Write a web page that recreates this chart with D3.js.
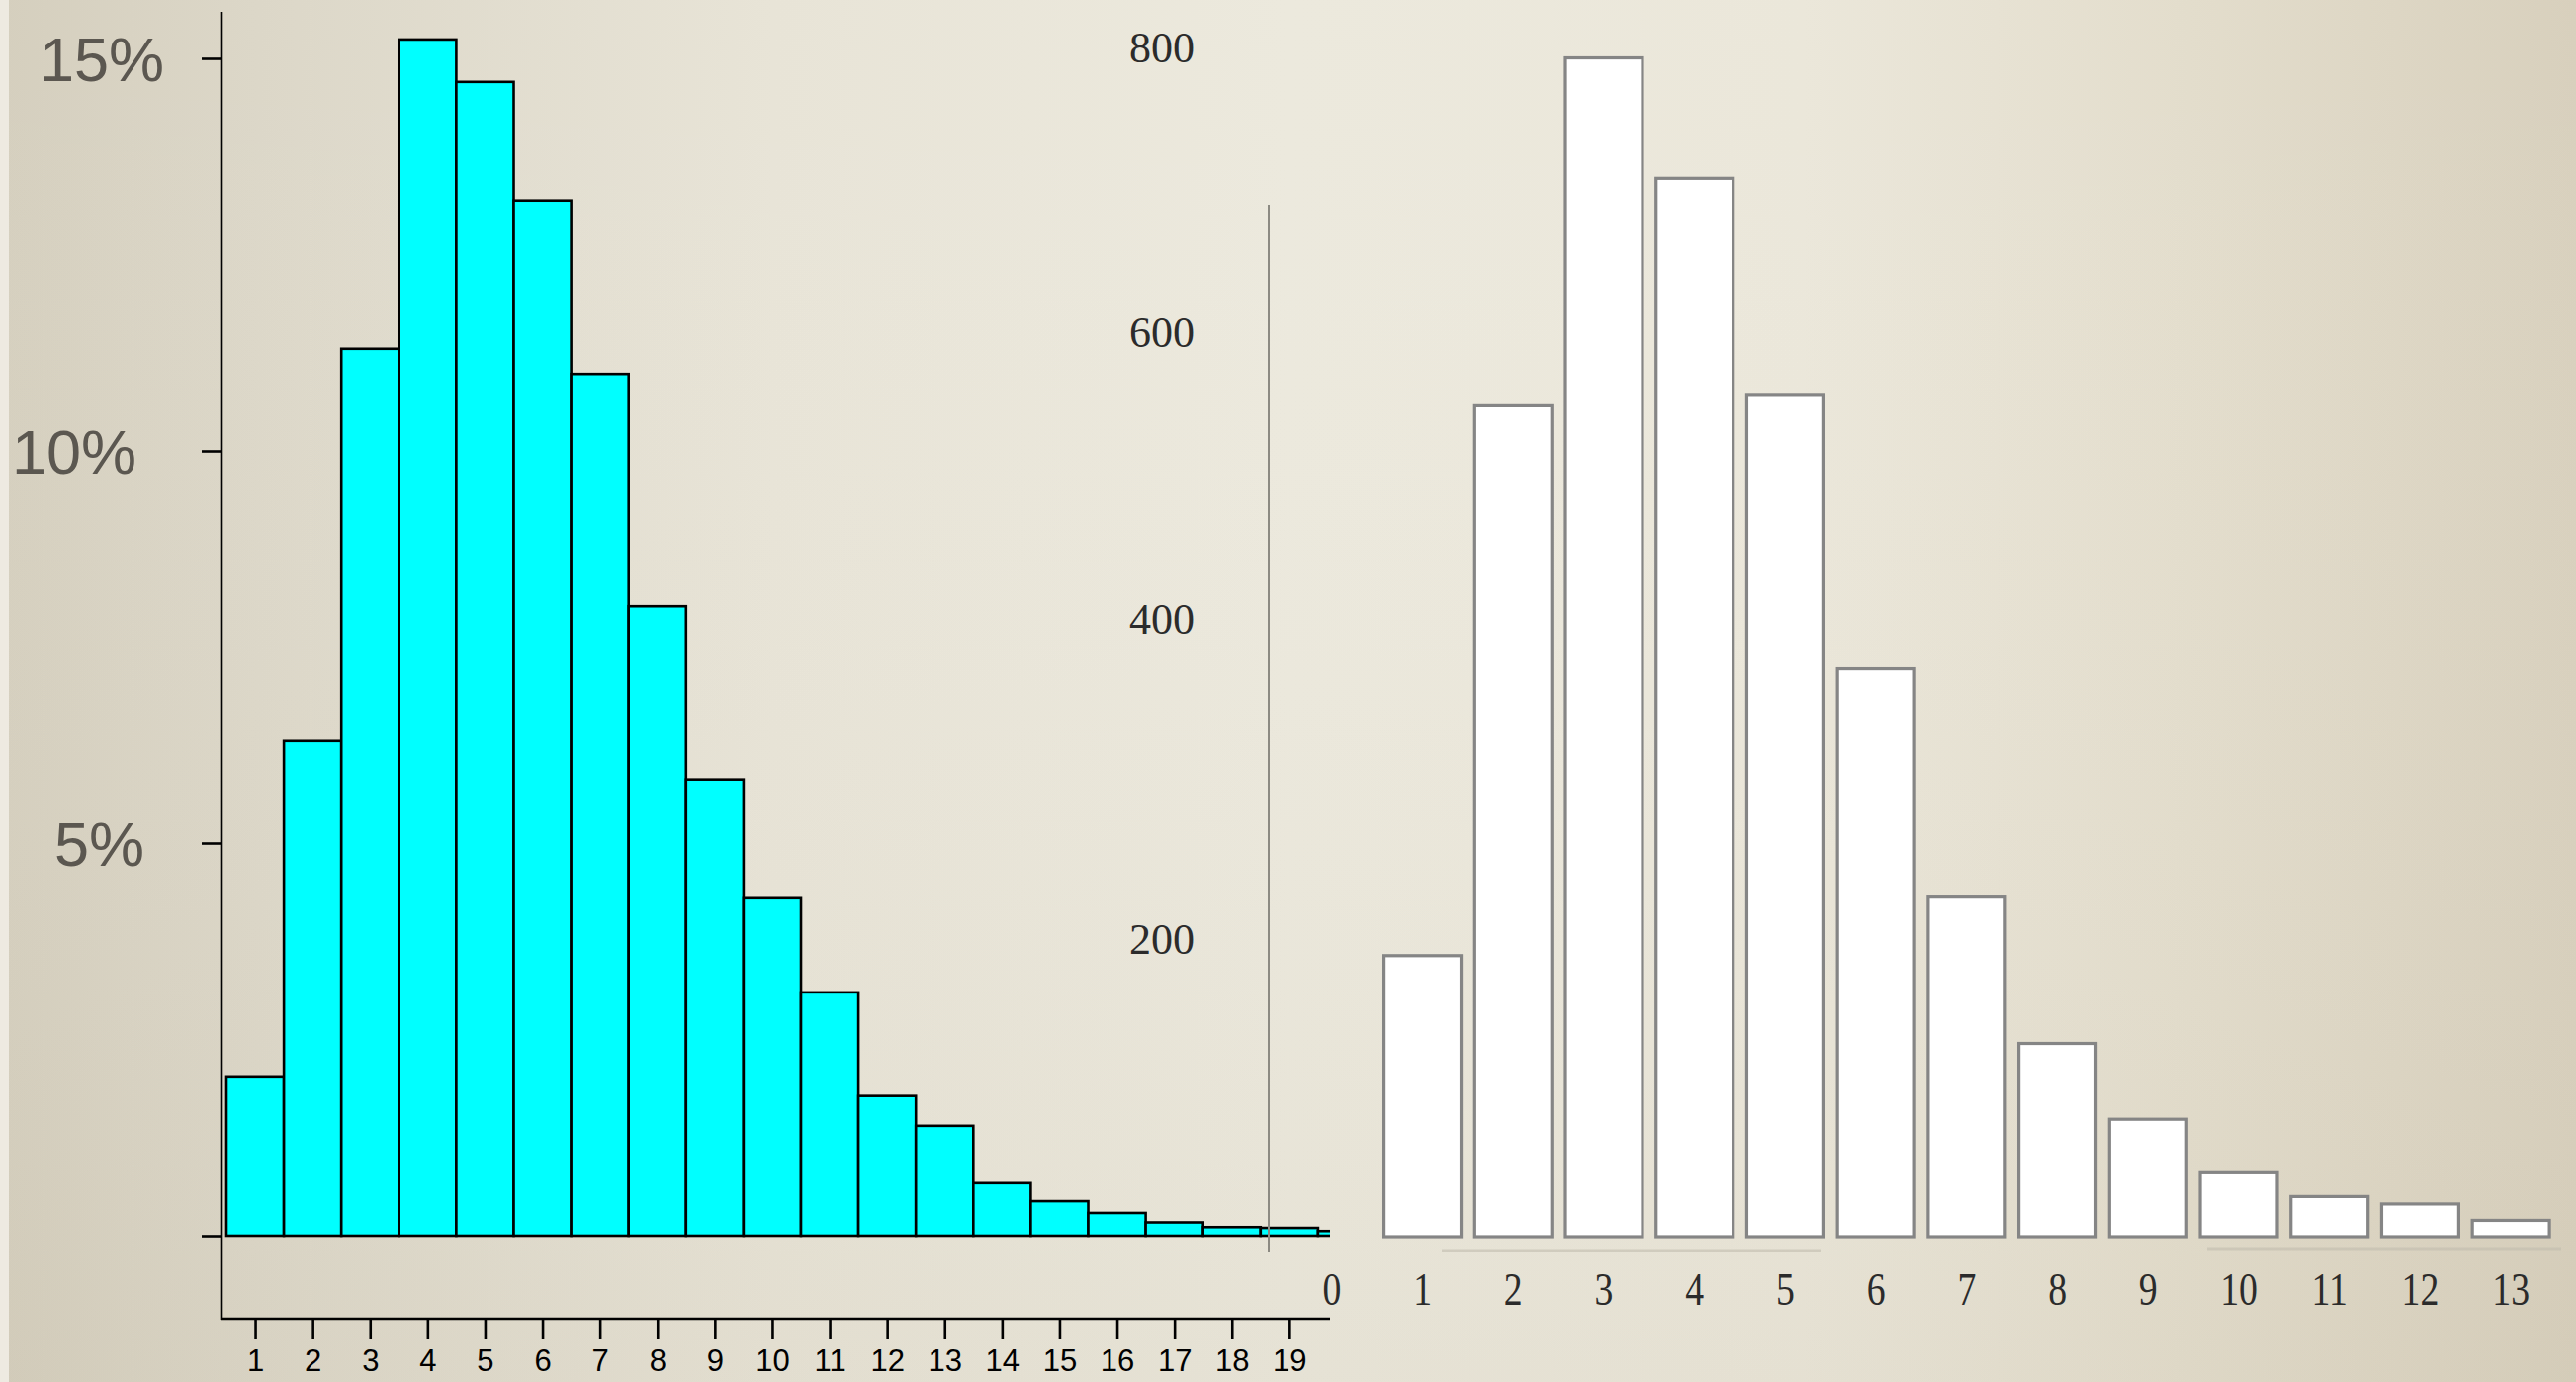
<!DOCTYPE html>
<html>
<head>
<meta charset="utf-8">
<script src="https://cdn.jsdelivr.net/npm/d3@7"></script>
<style>
	html, body {margin:0; padding:0; overflow:hidden;}
	body {width:2605px; height:1398px;}
</style>
</head>
<body>
<div id="wrap"></div>
<script>
//left histogram: share of cases per bin, in percent
var left_bins = [1,2,3,4,5,6,7,8,9,10,11,12,13,14,15,16,17,18,19,20];
var left_pct = [2.03,6.30,11.30,15.24,14.70,13.19,10.98,8.02,5.81,4.31,3.10,1.78,1.40,0.67,0.44,0.29,0.17,0.11,0.10,0.06];
var left_yticks = [0,5,10,15];
var left_xticks = [1,2,3,4,5,6,7,8,9,10,11,12,13,14,15,16,17,18,19];

//right bar chart: counts per category
var right_cats = [0,1,2,3,4,5,6,7,8,9,10,11,12,13];
var right_counts = [0,189,559,793,712,566,382,229,130,79,43,27,22,11];
var right_yticks = [200,400,600,800];

var W = 2605, H = 1398;

//the two pictures were pasted together, so their labels sit a little off the grid
var left_label_dx = {5:-20, 10:-28, 15:0};
var right_label_dy = {200:0, 400:-23, 600:-12, 800:0};

var svg = d3.select("#wrap").append("svg")
	.attr("width",W).attr("height",H)
	.style("display","block");

//paper background
var defs = svg.append("defs");
var grad = defs.append("linearGradient").attr("id","paper").attr("x1","0").attr("x2","1").attr("y1","0").attr("y2","0");
[["0","#d5cfbe"],["0.1","#dcd7c8"],["0.3","#e8e4d7"],["0.5","#ece9dd"],["0.7","#ebe7da"],["0.85","#e3ddcc"],["1","#d8d0bd"]]
	.forEach(function(s){ grad.append("stop").attr("offset",s[0]).attr("stop-color",s[1]); });
var vgrad = defs.append("linearGradient").attr("id","shade").attr("x1","0").attr("x2","0").attr("y1","0").attr("y2","1");
vgrad.append("stop").attr("offset","0").attr("stop-color","#fff").attr("stop-opacity",0.0);
vgrad.append("stop").attr("offset","1").attr("stop-color","#b8ae98").attr("stop-opacity",0.12);

svg.append("rect").attr("width",W).attr("height",H).attr("fill","url(#paper)");
svg.append("rect").attr("width",W).attr("height",H).attr("fill","url(#shade)");
svg.append("rect").attr("width",9).attr("height",H).attr("fill","#eeeae1");

defs.append("clipPath").attr("id","leftclip")
	.append("rect").attr("x",0).attr("y",0).attr("width",1345).attr("height",H);

//------------- left chart -------------
var xl = d3.scaleLinear().domain([0.5,20.5]).range([229,229+20*58.1]);
var yl = d3.scaleLinear().domain([0,15]).range([1250,59]);

var left = svg.append("g").classed("left-chart",true);

left.append("g").attr("clip-path","url(#leftclip)")
	.selectAll("rect").data(left_bins).enter().append("rect")
	.attr("x",function(d,i){return xl(d-0.5)})
	.attr("width",function(d,i){return xl(d+0.5)-xl(d-0.5)})
	.attr("y",function(d,i){return yl(left_pct[i])})
	.attr("height",function(d,i){return yl(0)-yl(left_pct[i])})
	.attr("fill","#00ffff")
	.attr("stroke","#000")
	.attr("stroke-width",2.6);

//y axis
var ly_axis = left.append("g").attr("transform","translate(224,0)")
	.call(d3.axisLeft(yl).tickValues(left_yticks).tickSize(20).tickPadding(38)
		.tickFormat(function(d){return d===0 ? "" : d+"%"}));
ly_axis.select(".domain").remove();
ly_axis.selectAll(".tick line").attr("stroke","#000").attr("stroke-width",2.6);
ly_axis.selectAll(".tick text")
	.attr("fill","#5b5750")
	.style("font-family","'Liberation Sans', Arial, sans-serif")
	.style("font-size","63px")
	.attr("dx",function(d){return left_label_dx[d] || 0})
	.attr("dy","0.36em");
left.append("line").attr("x1",224).attr("x2",224).attr("y1",12).attr("y2",1335)
	.attr("stroke","#000").attr("stroke-width",2.6);

//x axis
var lx_axis = left.append("g").attr("transform","translate(0,1334)")
	.call(d3.axisBottom(xl).tickValues(left_xticks).tickSize(20).tickPadding(11).tickFormat(d3.format("d")));
lx_axis.select(".domain").remove();
lx_axis.selectAll(".tick line").attr("stroke","#000").attr("stroke-width",2.6);
lx_axis.selectAll(".tick text")
	.attr("fill","#000")
	.style("font-family","'Liberation Sans', Arial, sans-serif")
	.style("font-size","31px");
left.append("line").attr("x1",223).attr("x2",1345).attr("y1",1334).attr("y2",1334)
	.attr("stroke","#000").attr("stroke-width",2.6);

//------------- right chart -------------
var xr = d3.scaleBand().domain(right_cats).range([1301,2585]).paddingInner(0.15).paddingOuter(0.075);
var yr = d3.scaleLinear().domain([0,800]).range([1251,48]);

var right = svg.append("g").classed("right-chart",true);

right.append("line").attr("x1",1283).attr("x2",1283).attr("y1",207).attr("y2",1267)
	.attr("stroke","#8c8a82").attr("stroke-width",2);

//faint rules below the bars
right.append("line").attr("x1",1458).attr("x2",1841).attr("y1",1265).attr("y2",1265)
	.attr("stroke","#c2bdaf").attr("stroke-width",3).attr("opacity",0.6);
right.append("line").attr("x1",2232).attr("x2",2590).attr("y1",1263).attr("y2",1263)
	.attr("stroke","#c2bdaf").attr("stroke-width",3).attr("opacity",0.6);

right.selectAll("rect.bar").data(right_cats.filter(function(d,i){return right_counts[i]>0})).enter()
	.append("rect").classed("bar",true)
	.attr("x",function(d){return xr(d)})
	.attr("width",xr.bandwidth())
	.attr("y",function(d){return yr(right_counts[d])})
	.attr("height",function(d){return yr(0)-yr(right_counts[d])})
	.attr("fill","#ffffff")
	.attr("stroke","#858585")
	.attr("stroke-width",3.2);

var ry_axis = right.append("g").attr("transform","translate(1283,0)")
	.call(d3.axisLeft(yr).tickValues(right_yticks).tickSize(0).tickPadding(75));
ry_axis.select(".domain").remove();
ry_axis.selectAll(".tick text")
	.attr("fill","#2b2b2b")
	.style("font-family","'Liberation Serif', 'Times New Roman', serif")
	.style("font-size","44px")
	.attr("y",function(d){return right_label_dy[d] || 0});

var rx_axis = right.append("g").attr("transform","translate(0,1251)")
	.call(d3.axisBottom(xr).tickSize(0).tickPadding(36));
rx_axis.select(".domain").remove();
rx_axis.selectAll(".tick text")
	.attr("fill","#2b2b2b")
	.style("font-family","'Liberation Serif', 'Times New Roman', serif")
	.style("font-size","46px")
	.attr("transform","scale(0.82,1)");
</script>
</body>
</html>
